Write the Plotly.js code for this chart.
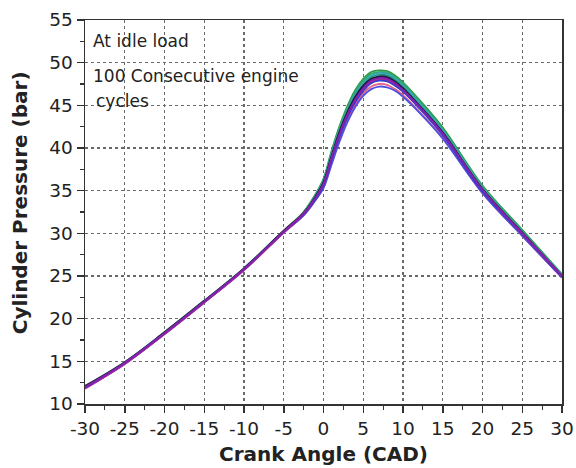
<!DOCTYPE html>
<html>
<head>
<meta charset="utf-8">
<script src="https://cdn.plot.ly/plotly-3.0.1.min.js"></script>
<style>html,body{margin:0;padding:0;background:#fff;}#chart{width:576px;height:468px;}</style>
</head>
<body>
<div id="chart"></div>
<script>
// Crank angle (CAD)
var crankAngle = [-30, -25, -20, -15, -10, -5, -2.5, -1, 0, 1, 2, 3, 4, 5, 6, 7, 8, 9, 10, 12, 15, 20, 25, 30];

// Cylinder pressure (bar) for a sample of the consecutive cycles
var cycleA = [12.1, 14.9, 18.4, 22.1, 25.9, 30.3, 32.5, 34.5, 36.3, 39.5, 42.4, 44.7, 46.6, 47.9, 48.7, 48.9, 48.8, 48.3, 47.5, 45.5, 42.2, 35.5, 30.3, 25.2];
var cycleB = [11.9, 14.7, 18.2, 21.9, 25.7, 30.1, 32.1, 33.9, 35.4, 38.2, 41.0, 43.3, 45.1, 46.4, 47.2, 47.5, 47.4, 46.9, 46.2, 44.3, 41.2, 34.7, 29.7, 24.8];
var cycleC = [12.0, 14.8, 18.3, 22.0, 25.8, 30.2, 32.4, 34.4, 36.1, 39.2, 42.0, 44.3, 46.1, 47.4, 48.3, 48.6, 48.5, 48.0, 47.2, 45.2, 42.0, 35.3, 30.2, 25.1];
var cycleD = [11.9, 14.8, 18.3, 22.0, 25.8, 30.2, 32.2, 34.0, 35.6, 38.5, 41.3, 43.6, 45.4, 46.7, 47.6, 47.9, 47.8, 47.3, 46.6, 44.7, 41.5, 34.9, 29.9, 24.9];
var cycleE = [12.0, 14.8, 18.3, 22.0, 25.8, 30.2, 32.3, 34.2, 35.8, 38.8, 41.6, 43.9, 45.7, 47.0, 47.9, 48.2, 48.1, 47.6, 46.8, 44.9, 41.7, 35.1, 30.0, 25.0];
var cycleF = [12.1, 14.9, 18.4, 22.1, 25.9, 30.3, 32.4, 34.3, 36.0, 39.0, 41.9, 44.2, 46.0, 47.3, 48.1, 48.4, 48.3, 47.8, 47.0, 45.0, 41.8, 35.2, 30.1, 25.0];
var cycleG = [11.8, 14.7, 18.2, 21.9, 25.7, 30.1, 32.2, 34.1, 35.7, 38.6, 41.4, 43.7, 45.5, 46.8, 47.7, 48.0, 47.9, 47.4, 46.7, 44.8, 41.6, 35.0, 29.9, 24.9];
var cycleH = [11.9, 14.7, 18.2, 21.9, 25.7, 30.1, 32.1, 33.9, 35.3, 38.0, 40.7, 43.0, 44.8, 46.1, 46.9, 47.2, 47.1, 46.7, 46.0, 44.2, 41.1, 34.7, 29.7, 24.8];
var cycleI = [12.0, 14.8, 18.3, 22.0, 25.8, 30.2, 32.5, 34.6, 36.4, 39.6, 42.5, 44.9, 46.8, 48.1, 48.9, 49.1, 49.0, 48.5, 47.7, 45.7, 42.4, 35.6, 30.4, 25.2];
var cycleJ = [12.0, 14.8, 18.3, 22.0, 25.8, 30.2, 32.3, 34.3, 35.9, 38.9, 41.7, 44.0, 45.9, 47.2, 48.0, 48.3, 48.2, 47.7, 46.9, 45.0, 41.8, 35.1, 30.0, 25.0];
var cycleK = [11.9, 14.8, 18.3, 22.0, 25.8, 30.2, 32.3, 34.1, 35.7, 38.7, 41.5, 43.8, 45.6, 46.9, 47.8, 48.1, 48.0, 47.5, 46.7, 44.8, 41.6, 35.0, 30.0, 25.0];
var cycleL = [12.1, 14.9, 18.4, 22.1, 25.9, 30.3, 32.4, 34.4, 36.2, 39.3, 42.2, 44.5, 46.4, 47.7, 48.5, 48.8, 48.7, 48.2, 47.4, 45.4, 42.1, 35.4, 30.2, 25.1];

var xTicks = [-30, -25, -20, -15, -10, -5, 0, 5, 10, 15, 20, 25, 30];
var yTicks = [10, 15, 20, 25, 30, 35, 40, 45, 50, 55];

var cycles = [cycleB, cycleH, cycleI, cycleA, cycleC, cycleL, cycleF, cycleJ, cycleG, cycleK, cycleD, cycleE];
var colors = ['#e8607f', '#5050e0', '#2e9a4a', '#33a860', '#1f9090', '#30a8a8', '#222222', '#1a1a66', '#c42a9a', '#b0308a', '#3a3acc', '#8a20aa'];

var traces = cycles.map(function (ys, i) {
  return {
    x: crankAngle, y: ys, type: 'scatter', mode: 'lines',
    line: {color: colors[i], width: 1.8, shape: 'spline', smoothing: 1.0},
    hoverinfo: 'skip', showlegend: false
  };
});

var font = 'DejaVu Sans, sans-serif';
var axisCommon = {
  showline: true, linecolor: '#333', linewidth: 1.5, mirror: true,
  ticks: 'outside', ticklen: 7, tickwidth: 1.5, tickcolor: '#333',
  showgrid: true, gridcolor: '#6a6a6a', gridwidth: 1.1, griddash: 'dot',
  zeroline: false,
  tickfont: {family: font, size: 18.5, color: '#222'},
  minor: {ticks: 'outside', ticklen: 4, tickwidth: 1.2, tickcolor: '#333', showgrid: false}
};

var layout = {
  width: 576, height: 468,
  margin: {l: 85, r: 14, t: 20, b: 64},
  paper_bgcolor: '#fff', plot_bgcolor: '#fff',
  xaxis: Object.assign({}, axisCommon, {
    range: [-30, 30], tickvals: xTicks, ticktext: xTicks.map(String),
    minor: Object.assign({}, axisCommon.minor, {dtick: 2.5}),
    title: {text: '<b>Crank Angle (CAD)</b>', font: {family: font, size: 20, color: '#222'}, standoff: 9}
  }),
  yaxis: Object.assign({}, axisCommon, {
    range: [10, 55], tickvals: yTicks, ticktext: yTicks.map(String),
    minor: Object.assign({}, axisCommon.minor, {dtick: 2.5})
  }),
  annotations: [
    {text: '<b>Cylinder Pressure (bar)</b>', xref: 'paper', yref: 'paper', x: -0.136, y: 0.523, xanchor: 'center', yanchor: 'middle', textangle: -90, showarrow: false, font: {family: font, size: 20, color: '#222'}},
    {text: 'At idle load', xref: 'paper', yref: 'paper', x: 0.013, y: 0.945, xanchor: 'left', yanchor: 'middle', showarrow: false, font: {family: font, size: 17, color: '#222'}},
    {text: '100 Consecutive engine', xref: 'paper', yref: 'paper', x: 0.013, y: 0.853, xanchor: 'left', yanchor: 'middle', showarrow: false, font: {family: font, size: 17, color: '#222'}},
    {text: 'cycles', xref: 'paper', yref: 'paper', x: 0.019, y: 0.79, xanchor: 'left', yanchor: 'middle', showarrow: false, font: {family: font, size: 17, color: '#222'}}
  ]
};

Plotly.newPlot('chart', traces, layout, {displayModeBar: false, staticPlot: true});
</script>
</body>
</html>
